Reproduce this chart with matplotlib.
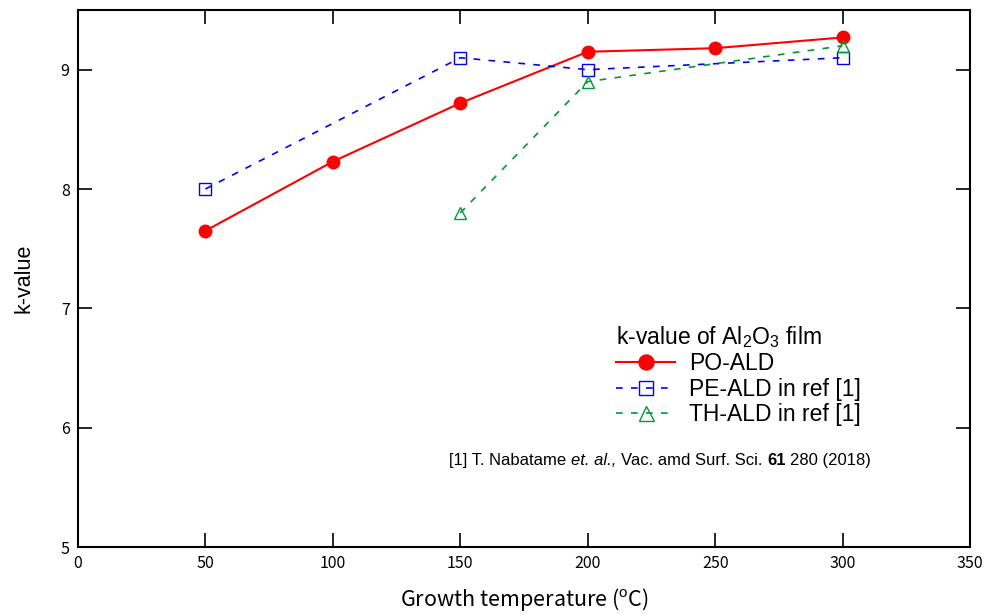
import matplotlib
matplotlib.use("Agg")
import matplotlib.pyplot as plt

plt.rcParams['font.family'] = ['Noto Sans CJK JP', 'DejaVu Sans']
plt.rcParams['mathtext.fontset'] = 'custom'
plt.rcParams['mathtext.rm'] = 'Liberation Sans'
plt.rcParams['mathtext.it'] = 'Liberation Sans:italic'
plt.rcParams['mathtext.bf'] = 'Liberation Sans:bold'

po_x = [50, 100, 150, 200, 250, 300]
po_y = [7.65, 8.23, 8.72, 9.15, 9.18, 9.27]
pe_x = [50, 150, 200, 300]
pe_y = [8.0, 9.1, 9.0, 9.1]
th_x = [150, 200, 300]
th_y = [7.8, 8.9, 9.2]
xticks = [0, 50, 100, 150, 200, 250, 300, 350]
yticks = [5, 6, 7, 8, 9]

fig = plt.figure(figsize=(9.86, 6.14), dpi=100)
ax = fig.add_axes([78/986, 1-547/614, (970-78)/986, (547-10)/614])

ax.plot(po_x, po_y, color='#ff0000', lw=1.5, marker='o', ms=9, label='PO-ALD')
ax.plot(pe_x, pe_y, color='#0000ff', lw=1.2, ls=(0, (4, 5)), marker='s', ms=8,
        mfc='none', mec='#0000ff', mew=1.0, label='PE-ALD in ref [1]')
ax.plot(th_x, th_y, color='#009933', lw=1.2, ls=(0, (4, 5)), marker='^', ms=9,
        mfc='none', mec='#009933', mew=1.0, label='TH-ALD in ref [1]')

ax.set_xlim(0, 350)
ax.set_ylim(5, 9.5)
ax.set_xticks(xticks)
ax.set_yticks(yticks)
ax.tick_params(direction='in', length=10, width=1.2, top=True, right=True,
               labelsize=11.5, pad=6)
for s in ax.spines.values():
    s.set_linewidth(1.5)

ax.set_xlabel('Growth temperature ($^{\\rm o}$C)', fontsize=15.5, labelpad=10)
ax.set_ylabel('k-value', fontsize=15.5, labelpad=19, family=['Liberation Sans'])

leg = ax.legend(loc='upper left', bbox_to_anchor=(0.585, 0.445), frameon=False,
                prop={'family': 'Liberation Sans', 'size': 16.5},
                title='k-value of Al$_2$O$_3$ film',
                handlelength=2.6, handletextpad=0.6,
                labelspacing=0.1, borderpad=0.2, markerscale=1.2)
leg.get_title().set_fontfamily('Liberation Sans')
leg.get_title().set_fontsize(16.5)
leg._legend_box.align = 'left'

# reference note, built from pieces with different styles
fs = 12
parts = [('[1] T. Nabatame', 'normal', 'normal'),
         ('et. al.,', 'italic', 'normal'),
         ('Vac. amd Surf. Sci.', 'normal', 'normal'),
         ('61', 'normal', 'bold'),
         ('280 (2018)', 'normal', 'normal')]
prev = ax.text(0.416, 0.148, parts[0][0], transform=ax.transAxes, fontsize=fs,
               ha='left', va='bottom', family='Liberation Sans')
for txt, style, weight in parts[1:]:
    prev = ax.annotate(txt, xy=(1, 0), xycoords=prev, xytext=(3.4, 0),
                       textcoords='offset points', fontsize=fs, ha='left',
                       va='bottom', family='Liberation Sans', style=style,
                       weight=weight)

fig.savefig('out.png', dpi=100)
